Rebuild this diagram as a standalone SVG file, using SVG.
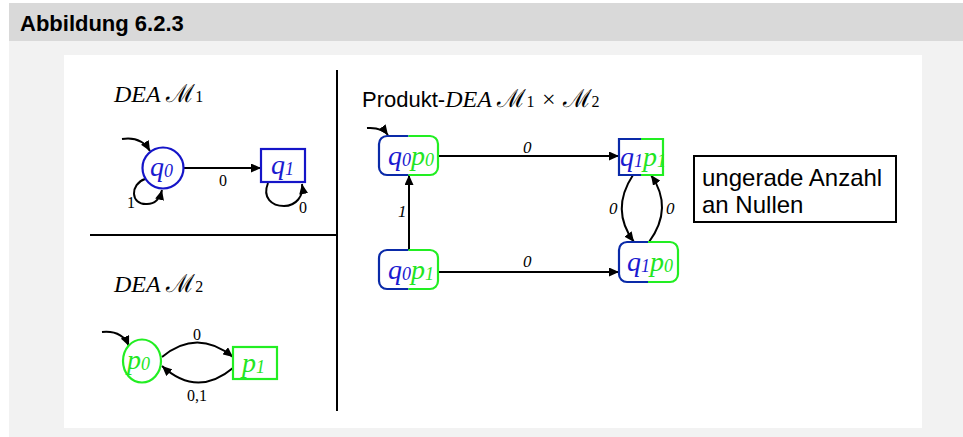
<svg xmlns="http://www.w3.org/2000/svg" width="963" height="437" viewBox="0 0 963 437">
<style>
.hdr{font-family:"Liberation Sans",Arial,sans-serif;font-weight:bold;font-size:22px;fill:#000}
.ttl{font-family:"Liberation Serif","Times New Roman",serif;font-style:italic;font-size:24px;fill:#000}
.scr{font-family:"DejaVu Serif",serif;font-style:normal;font-size:25px}
.sub{font-family:"Liberation Serif",serif;font-style:normal;font-size:16px}
.sans{font-family:"Liberation Sans",Arial,sans-serif;font-size:22px;font-style:normal;fill:#000}
.note{font-family:"Liberation Sans",Arial,sans-serif;font-size:24px;fill:#000}
.lbl{font-family:"Liberation Serif","Times New Roman",serif;font-size:16px;fill:#000}
.ilbl{font-family:"Liberation Serif","Times New Roman",serif;font-style:italic;font-size:17px;fill:#000}
.st{font-family:"Liberation Serif","Times New Roman",serif;font-style:italic;font-size:28px}
.ssub{font-size:18px}
.blue{fill:#1a1ad0}
.green{fill:#22e622}
.edge{fill:none;stroke:#000;stroke-width:2}
.bs{fill:none;stroke:#1515c8;stroke-width:2.2}
.gs{fill:none;stroke:#22ee22;stroke-width:2.2}
.nb{fill:none;stroke:#0a2aa8;stroke-width:2.2}
.div{stroke:#000;stroke-width:2}
</style>
<defs>
<marker id="ah" markerUnits="userSpaceOnUse" markerWidth="11" markerHeight="9" refX="10" refY="4.5" orient="auto">
<path d="M0,0 L10,4.5 L0,9 Z" fill="#000"/>
</marker>
</defs>
<rect x="0" y="0" width="963" height="437" fill="#fff"/>
<rect x="9" y="3" width="954" height="38" fill="#d9d9d9"/>
<rect x="9" y="41" width="954" height="396" fill="#f2f2f2"/>
<rect x="64" y="55" width="858" height="373" fill="#fff"/>
<text class="hdr" x="20" y="31">Abbildung 6.2.3</text>

<line class="div" x1="337" y1="70" x2="337" y2="411"/>
<line class="div" x1="90" y1="235" x2="337" y2="235"/>

<text class="ttl" x="114" y="102">DEA <tspan class="scr">ℳ</tspan><tspan class="sub">1</tspan></text>
<text class="ttl" x="114" y="292">DEA <tspan class="scr">ℳ</tspan><tspan class="sub">2</tspan></text>
<text class="sans" x="362" y="107">Produkt-<tspan class="ttl">DEA <tspan class="scr">ℳ</tspan><tspan class="sub">1</tspan> × <tspan class="scr">ℳ</tspan><tspan class="sub">2</tspan></tspan></text>

<g id="connectors">
<path class="edge" d="M122,139 Q141,136 150,151" marker-end="url(#ah)"/>
<path class="edge" d="M184,168 H261" marker-end="url(#ah)"/>
<path class="edge" d="M145,179 C130,184 130,205 147,204 C155,204 160,198 162,190" marker-end="url(#ah)"/>
<path class="edge" d="M268,183 C262,198 272,206 284,206 C296,206 304,196 302,184" marker-end="url(#ah)"/>
<path class="edge" d="M102,332 Q122,330 129,346" marker-end="url(#ah)"/>
<path class="edge" d="M162,357 Q197,328 233,357" marker-end="url(#ah)"/>
<path class="edge" d="M233,368 Q197,398 162,366" marker-end="url(#ah)"/>
<path class="edge" d="M367,128 Q382,127 388,135" marker-end="url(#ah)"/>
<path class="edge" d="M438,156 H619" marker-end="url(#ah)"/>
<path class="edge" d="M438,272 H619" marker-end="url(#ah)"/>
<path class="edge" d="M409,250 V175" marker-end="url(#ah)"/>
<path class="edge" d="M633,175 Q610,210 634,242" marker-end="url(#ah)"/>
<path class="edge" d="M649,242 Q674,208 651,175" marker-end="url(#ah)"/>
<text class="lbl" x="219" y="186">0</text>
<text class="lbl" x="127" y="208">1</text>
<text class="lbl" x="299" y="213">0</text>
<text class="lbl" x="197" y="340" text-anchor="middle">0</text>
<text class="lbl" x="197" y="401" text-anchor="middle">0,1</text>
<text class="ilbl" x="523" y="153">0</text>
<text class="ilbl" x="523" y="267">0</text>
<text class="ilbl" x="398" y="217">1</text>
<text class="ilbl" x="609" y="214">0</text>
<text class="ilbl" x="666" y="214">0</text>
</g>

<g id="q0">
<circle class="bs" cx="163" cy="168" r="20.5"/>
<text class="st blue" x="150" y="176">q<tspan class="ssub" dy="1">0</tspan></text>
</g>
<g id="q1">
<rect class="bs" x="261" y="149" width="44" height="33"/>
<text class="st blue" x="271" y="174">q<tspan class="ssub" dy="1">1</tspan></text>
</g>
<g id="p0">
<ellipse class="gs" cx="142" cy="361" rx="19" ry="21.5"/>
<text class="st green" x="127" y="369">p<tspan class="ssub" dy="1">0</tspan></text>
</g>
<g id="p1">
<rect class="gs" x="233" y="347" width="44" height="32"/>
<text class="st green" x="242" y="372">p<tspan class="ssub" dy="1">1</tspan></text>
</g>

<g id="q0p0">
<path class="nb" d="M408.5,136 H387 A8,8 0 0 0 379,144 V167 A8,8 0 0 0 387,175 H408.5"/>
<path class="gs" d="M408.5,136 H430 A8,8 0 0 1 438,144 V167 A8,8 0 0 1 430,175 H408.5"/>
<text class="st" x="388" y="165"><tspan class="blue">q</tspan><tspan class="blue ssub" dy="1">0</tspan><tspan class="green" dy="-1">p</tspan><tspan class="green ssub" dy="1">0</tspan></text>
</g>
<g id="q0p1">
<path class="nb" d="M408.5,250 H387 A8,8 0 0 0 379,258 V281 A8,8 0 0 0 387,289 H408.5"/>
<path class="gs" d="M408.5,250 H430 A8,8 0 0 1 438,258 V281 A8,8 0 0 1 430,289 H408.5"/>
<text class="st" x="388" y="279"><tspan class="blue">q</tspan><tspan class="blue ssub" dy="1">0</tspan><tspan class="green" dy="-1">p</tspan><tspan class="green ssub" dy="1">1</tspan></text>
</g>
<g id="q1p1">
<path class="nb" d="M641,139 H619 V175 H641"/>
<path class="gs" d="M641,139 H663 V175 H641"/>
<text class="st" x="620" y="166"><tspan class="blue">q</tspan><tspan class="blue ssub" dy="1">1</tspan><tspan class="green" dy="-1">p</tspan><tspan class="green ssub" dy="1">1</tspan></text>
</g>
<g id="q1p0">
<path class="nb" d="M648,242 H627 A8,8 0 0 0 619,250 V274 A8,8 0 0 0 627,282 H648"/>
<path class="gs" d="M648,242 H670 A8,8 0 0 1 678,250 V274 A8,8 0 0 1 670,282 H648"/>
<text class="st" x="627" y="271"><tspan class="blue">q</tspan><tspan class="blue ssub" dy="1">1</tspan><tspan class="green" dy="-1">p</tspan><tspan class="green ssub" dy="1">0</tspan></text>
</g>

<g id="note">
<rect x="694" y="156" width="202" height="66" fill="#fff" stroke="#000" stroke-width="2"/>
<text class="note" x="702" y="186">ungerade Anzahl</text>
<text class="note" x="702" y="213">an Nullen</text>
</g>
</svg>
